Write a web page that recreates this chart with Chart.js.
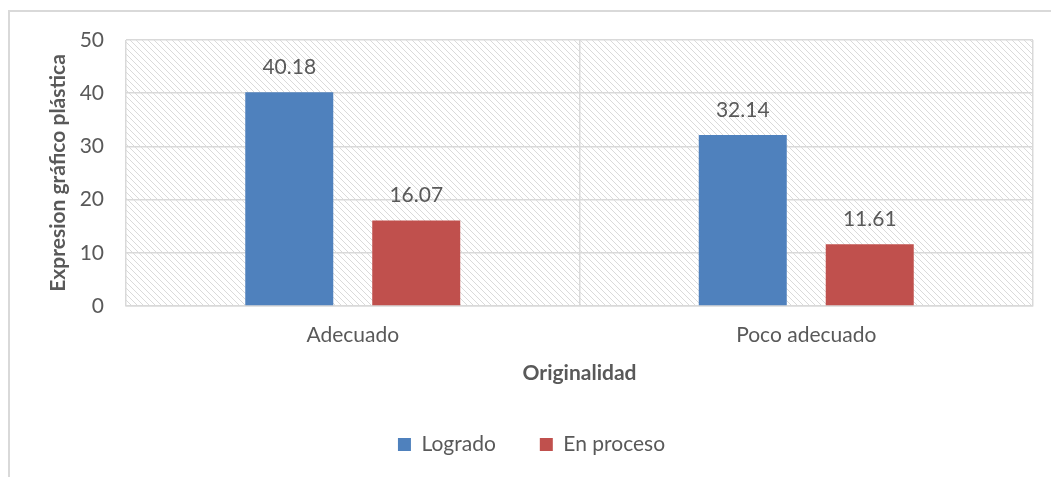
<!DOCTYPE html>
<html>
<head>
<meta charset="utf-8">
<script src="https://cdn.jsdelivr.net/npm/chart.js@4.4.0/dist/chart.umd.min.js"></script>
<style>
    html, body { margin: 0; padding: 0; background: #fff; overflow: hidden; }
    #wrap { position: relative; width: 1051px; height: 477px; }
    #frame { position: absolute; left: 8px; top: 10px; width: 1100px; height: 500px; border: 2px solid #d9d9d9; box-sizing: border-box; }
    canvas { position: absolute; left: 0; top: 0; }
</style>
</head>
<body>
<div id="wrap">
    <div id="frame"></div>
    <canvas id="chart" width="1051" height="477"></canvas>
</div>
<script>
// datos del grafico
const categorias = ['Adecuado', 'Poco adecuado'];
const logrado = [40.18, 32.14];
const enProceso = [16.07, 11.61];
const serieNombres = ['Logrado', 'En proceso'];
const yTicks = [0, 10, 20, 30, 40, 50];

const FONT = 'Lato, "Open Sans", sans-serif';
const TEXT = '#595959';

// patron de rayas diagonales para el fondo del area
function makeHatch() {
    const c = document.createElement('canvas');
    c.width = 6; c.height = 6;
    const g = c.getContext('2d');
    g.fillStyle = '#fff';
    g.fillRect(0, 0, 6, 6);
    g.strokeStyle = '#dadada';
    g.lineWidth = 1;
    g.beginPath();
    g.moveTo(-1, -1); g.lineTo(7, 7);
    g.moveTo(-1, 5); g.lineTo(1, 7);
    g.moveTo(5, -1); g.lineTo(7, 1);
    g.stroke();
    return c;
}

const hatchBg = {
    id: 'hatchBg',
    beforeDraw(chart) {
        const { ctx, chartArea: a } = chart;
        ctx.save();
        ctx.fillStyle = ctx.createPattern(makeHatch(), 'repeat');
        ctx.fillRect(a.left, a.top, a.right - a.left, a.bottom - a.top);
        ctx.restore();
    }
};

// etiquetas de valor encima de cada barra
const valueLabels = {
    id: 'valueLabels',
    afterDatasetsDraw(chart) {
        const ctx = chart.ctx;
        ctx.save();
        ctx.font = '21px ' + FONT;
        ctx.fillStyle = TEXT;
        ctx.textAlign = 'center';
        ctx.textBaseline = 'middle';
        chart.data.datasets.forEach((ds, i) => {
            chart.getDatasetMeta(i).data.forEach((bar, j) => {
                ctx.fillText(ds.data[j].toFixed(2), bar.x, bar.y - 25);
            });
        });
        ctx.restore();
    }
};

new Chart(document.getElementById('chart'), {
    type: 'bar',
    data: {
        labels: categorias,
        datasets: [
            { label: serieNombres[0], data: logrado, backgroundColor: '#4f81bd' },
            { label: serieNombres[1], data: enProceso, backgroundColor: '#c0504d' }
        ]
    },
    options: {
        responsive: false,
        animation: false,
        categoryPercentage: 0.56,
        barPercentage: 0.693,
        layout: { padding: { left: 30, right: 18, top: 40, bottom: 12 } },
        plugins: {
            legend: {
                position: 'bottom',
                labels: {
                    font: { family: FONT, size: 21 },
                    color: TEXT,
                    boxWidth: 13,
                    boxHeight: 13,
                    padding: 44
                }
            },
            tooltip: { enabled: false }
        },
        scales: {
            x: {
                afterFit(scale) { scale.height = 84; },
                grid: { color: '#d9d9d9', lineWidth: 1.5, drawTicks: false, offset: true },
                border: { color: '#d9d9d9', width: 1.5 },
                ticks: { font: { family: FONT, size: 21 }, color: TEXT, padding: 17 },
                title: {
                    display: true,
                    text: 'Originalidad',
                    font: { family: FONT, size: 21, weight: 'bold' },
                    color: TEXT,
                    padding: { top: 12, bottom: 4 }
                }
            },
            y: {
                min: 0,
                max: 50,
                afterBuildTicks(scale) {
                    scale.ticks = yTicks.map(v => ({ value: v }));
                },
                afterFit(scale) { scale.width = 96; },
                grid: { color: '#d9d9d9', lineWidth: 1.5, drawTicks: false },
                border: { display: false },
                ticks: { font: { family: FONT, size: 21 }, color: TEXT, padding: 22 },
                title: {
                    display: true,
                    text: 'Expresion gráfico plástica',
                    font: { family: FONT, size: 21, weight: 'bold' },
                    color: TEXT,
                    padding: { top: 16, bottom: 4 }
                }
            }
        }
    },
    plugins: [hatchBg, valueLabels]
});
</script>
</body>
</html>
